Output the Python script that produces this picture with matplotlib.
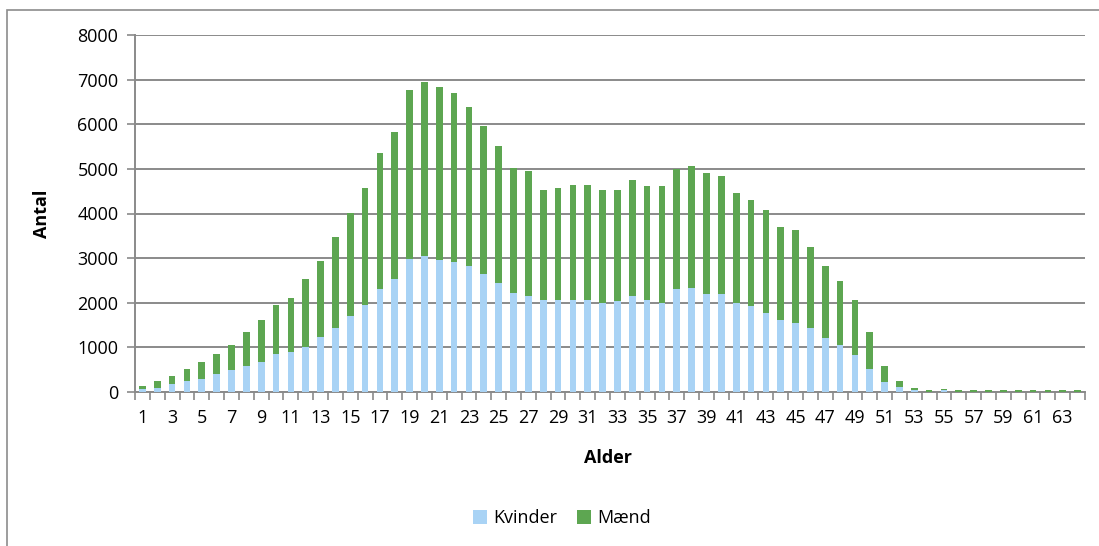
import matplotlib
matplotlib.use("Agg")
import matplotlib.pyplot as plt
from matplotlib.patches import Rectangle
import numpy as np

ages = list(range(1, 65))
kvinder = [60, 97, 172, 246, 291, 403, 485, 590, 672, 859,
           896, 1008, 1232, 1434, 1703, 1957, 2300, 2532, 2980, 3054,
           2950, 2913, 2823, 2644, 2450, 2226, 2151, 2069, 2069, 2069,
           2069, 1994, 2031, 2151, 2069, 1994, 2300, 2338, 2188, 2188,
           1994, 1919, 1763, 1613, 1538, 1434, 1202, 1053, 822, 515,
           224, 105, 35, 5, 35, 3, 3, 3, 3, 3,
           3, 3, 3, 3]
total = [134, 246, 366, 515, 672, 859, 1053, 1352, 1613, 1957,
         2106, 2524, 2935, 3473, 4003, 4571, 5362, 5825, 6766, 6953,
         6841, 6692, 6385, 5967, 5512, 5026, 4951, 4526, 4571, 4645,
         4645, 4526, 4526, 4757, 4608, 4608, 4989, 5063, 4907, 4832,
         4451, 4302, 4070, 3697, 3622, 3241, 2823, 2487, 2069, 1352,
         590, 254, 80, 35, 75, 35, 35, 35, 35, 35,
         35, 35, 35, 35]
maend = [t - k for t, k in zip(total, kvinder)]
yticks = [0, 1000, 2000, 3000, 4000, 5000, 6000, 7000, 8000]

plt.rcParams['font.family'] = ['Open Sans', 'DejaVu Sans']

W, H = 1099, 546
fig = plt.figure(figsize=(W / 100, H / 100), dpi=100)
ax = fig.add_axes([135 / W, 1 - 392 / H, (1085 - 135) / W, (392 - 35) / H])

# outer chart frame
fig.patches.append(Rectangle((7 / W, -0.05), 1.2, 1 - 10 / H + 0.05,
                             transform=fig.transFigure, fill=False,
                             edgecolor='#8c8c8c', linewidth=1.2))

blue = '#A9D3F5'
green = '#5DA651'
x = np.arange(len(ages))
ax.bar(x, kvinder, width=0.45, color=blue, label='Kvinder', zorder=3)
ax.bar(x, maend, width=0.45, bottom=kvinder, color=green, label='Mænd', zorder=3)

ax.set_xlim(-0.5, len(ages) - 0.5)
ax.set_ylim(0, 8000)
ax.set_yticks(yticks)
ax.set_yticklabels([str(v) for v in yticks], fontsize=13)
ax.yaxis.grid(True, color='#8a8a8a', linewidth=1.4, zorder=0)
ax.set_axisbelow(True)

ax.set_xticks(x)
ax.set_xticklabels([str(a) if a % 2 == 1 else '' for a in ages], fontsize=13)
ax.tick_params(axis='x', length=0, pad=12)
ax.set_xticks(np.arange(-0.5, len(ages)), minor=True)
ax.tick_params(axis='x', which='minor', length=6, width=1.2, color='#8a8a8a', direction='out')
ax.tick_params(axis='y', length=6, width=1.2, color='#8a8a8a', direction='out', pad=6)

for s in ['top', 'right']:
    ax.spines[s].set_visible(False)
for s in ['left', 'bottom']:
    ax.spines[s].set_color('#8a8a8a')
    ax.spines[s].set_linewidth(1.4)

ax.set_xlabel('Alder', fontsize=13, fontweight='bold')
ax.xaxis.set_label_coords((608.5 - 135) / 950, (392 - 458) / 357)
ax.xaxis.label.set_va('center')
ax.set_ylabel('Antal', fontsize=13, fontweight='bold')
ax.yaxis.set_label_coords((42 - 135) / 950, 0.5)
ax.yaxis.label.set_va('center')
ax.yaxis.label.set_ha('center')

fig.legend(loc='center', bbox_to_anchor=(562 / W, 1 - 518 / H), ncol=2, frameon=False,
           fontsize=13, handlelength=0.78, handleheight=0.78, handletextpad=0.35,
           columnspacing=1.1)

fig.savefig('out.png', dpi=100)
